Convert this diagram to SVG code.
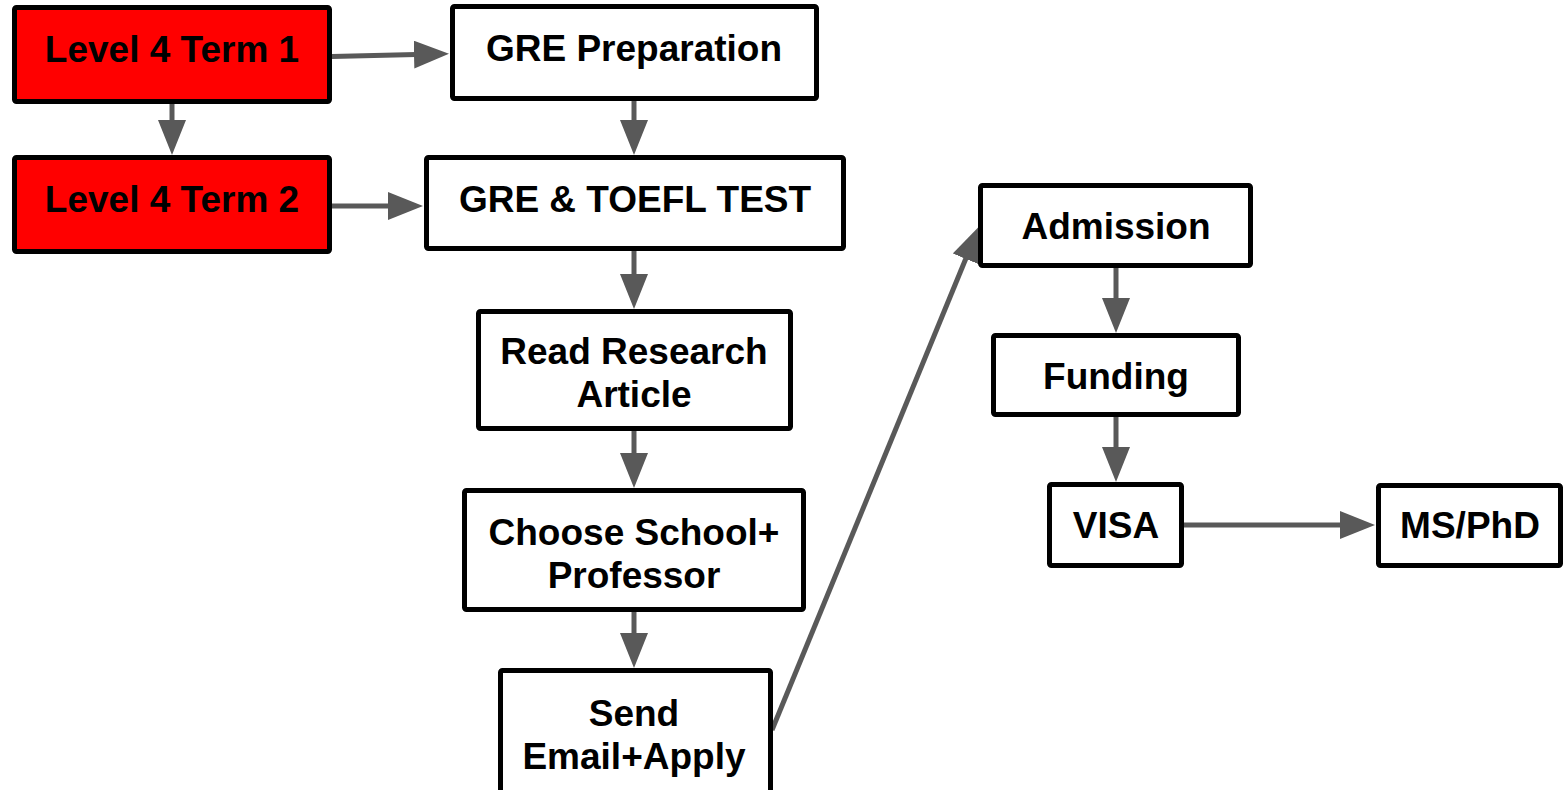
<svg xmlns="http://www.w3.org/2000/svg" width="1566" height="790" viewBox="0 0 1566 790">
<defs>
<style>
.box{fill:#ffffff;stroke:#000000;stroke-width:5;stroke-linejoin:round}
.red{fill:#ff0000}
.lbl{font-family:"Liberation Sans",Arial,sans-serif;font-weight:bold;font-size:37px;fill:#000000;text-anchor:middle}
.conn{fill:none;stroke:#595959;stroke-width:5;marker-end:url(#ah)}
</style>
<marker id="ah" markerUnits="userSpaceOnUse" markerWidth="36" markerHeight="30" viewBox="0 0 36 30" refX="2" refY="14" orient="auto">
<path d="M0,0 L35,14 L0,28 Z" fill="#595959"/>
</marker>
</defs>
<rect width="1566" height="790" fill="#ffffff"/>
<g id="connectors">
<path class="conn" d="M332,56.5 L416,54.5"/>
<path class="conn" d="M332,206 L390,206"/>
<path class="conn" d="M172,104 L172,122"/>
<path class="conn" d="M634,101 L634,122"/>
<path class="conn" d="M634,251 L634,276"/>
<path class="conn" d="M634,431 L634,455"/>
<path class="conn" d="M634,612 L634,635"/>
<path class="conn" d="M772,730 L966.5,257"/>
<path class="conn" d="M1116,268 L1116,300"/>
<path class="conn" d="M1116,417 L1116,449"/>
<path class="conn" d="M1184,525 L1342,525"/>
</g>
<g id="n1"><rect class="box red" x="14.5" y="7.5" width="315" height="94" rx="2"/><text class="lbl" x="172" y="62">Level 4 Term 1</text></g>
<g id="n2"><rect class="box red" x="14.5" y="157.5" width="315" height="94" rx="2"/><text class="lbl" x="172" y="212">Level 4 Term 2</text></g>
<g id="n3"><rect class="box" x="452.5" y="6.5" width="364" height="92" rx="2"/><text class="lbl" x="634" y="61">GRE Preparation</text></g>
<g id="n4"><rect class="box" x="426.5" y="157.5" width="417" height="91" rx="2"/><text class="lbl" x="635" y="212">GRE &amp; TOEFL TEST</text></g>
<g id="n5"><rect class="box" x="478.5" y="311.5" width="312" height="117" rx="2"/><text class="lbl" x="634" y="364">Read Research</text><text class="lbl" x="634" y="407">Article</text></g>
<g id="n6"><rect class="box" x="464.5" y="490.5" width="339" height="119" rx="2"/><text class="lbl" x="634" y="545">Choose School+</text><text class="lbl" x="634" y="588">Professor</text></g>
<g id="n7"><rect class="box" x="500.5" y="670.5" width="270" height="124" rx="2"/><text class="lbl" x="634" y="726">Send</text><text class="lbl" x="634" y="769">Email+Apply</text></g>
<g id="n8"><rect class="box" x="980.5" y="185.5" width="270" height="80" rx="2"/><text class="lbl" x="1116" y="239">Admission</text></g>
<g id="n9"><rect class="box" x="993.5" y="335.5" width="245" height="79" rx="2"/><text class="lbl" x="1116" y="389">Funding</text></g>
<g id="n10"><rect class="box" x="1049.5" y="484.5" width="132" height="81" rx="2"/><text class="lbl" x="1116" y="538">VISA</text></g>
<g id="n11"><rect class="box" x="1378.5" y="485.5" width="182" height="80" rx="2"/><text class="lbl" x="1470" y="538">MS/PhD</text></g>
</svg>
